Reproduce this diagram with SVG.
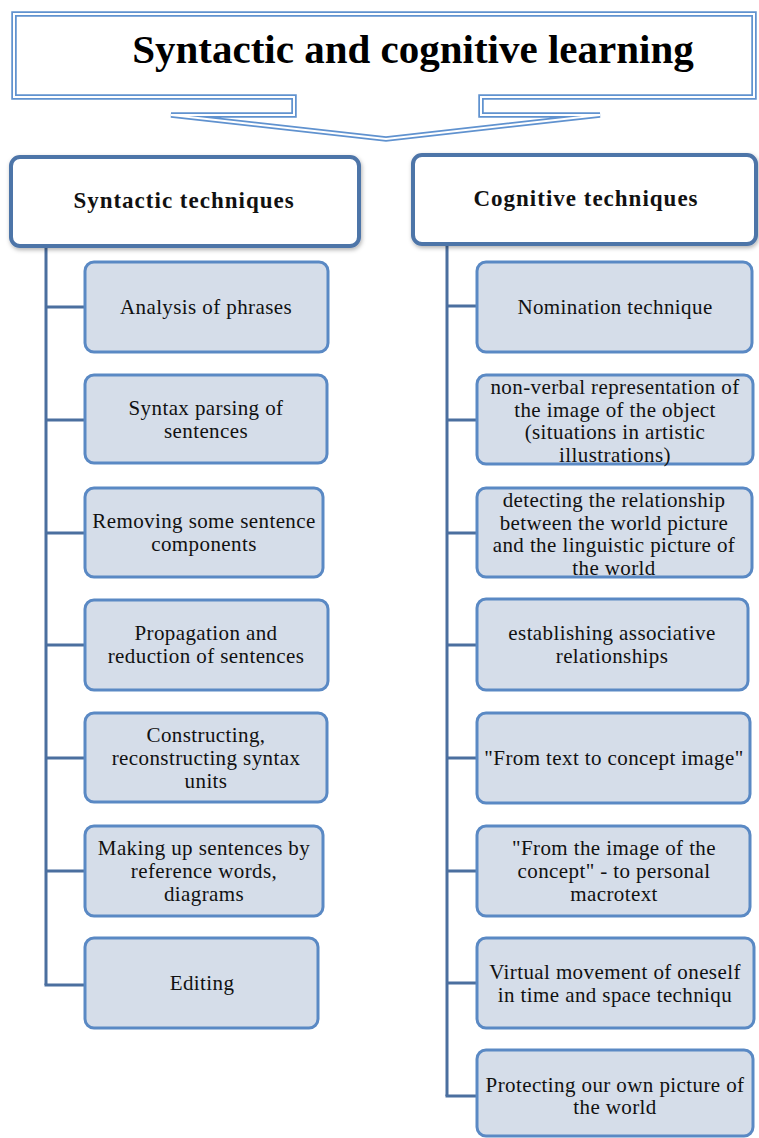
<svg xmlns="http://www.w3.org/2000/svg" width="759" height="1138" viewBox="0 0 759 1138">
<style>
.hdr{fill:#ffffff;stroke:#4e74a8;stroke-width:4}
.box{fill:#d5dde9;stroke:#5a89c4;stroke-width:3}
.conn{fill:none;stroke:#4b6f9f;stroke-width:3}
.t{font-family:"Liberation Serif","Times New Roman",serif;font-size:21px;fill:#111111;text-anchor:middle;letter-spacing:0.4px}
.ht{font-family:"Liberation Serif","Times New Roman",serif;font-size:23px;font-weight:bold;fill:#111111;text-anchor:middle;letter-spacing:1px}
.title{font-family:"Liberation Serif","Times New Roman",serif;font-size:41px;font-weight:bold;fill:#000000;text-anchor:middle}
</style>
<defs>
<filter id="sh" x="-10%" y="-10%" width="120%" height="130%">
<feDropShadow dx="1" dy="2" stdDeviation="2" flood-color="#000000" flood-opacity="0.3"/>
</filter>
</defs>
<rect width="759" height="1138" fill="#ffffff"/>

<g id="title">
<path d="M14,14 H754 V97 H481 V115 H600 L386,139 L171,115 H294 V97 H14 Z" fill="#ffffff" stroke="#6092cf" stroke-width="5.5" stroke-linejoin="miter"/>
<path d="M14,14 H754 V97 H481 V115 H600 L386,139 L171,115 H294 V97 H14 Z" fill="none" stroke="#ffffff" stroke-width="2" stroke-linejoin="miter"/>
<text class="title" x="413" y="63">Syntactic and cognitive learning</text>
</g>

<g id="connectors">
<path class="conn" d="M46,247 V985"/>
<path class="conn" d="M46,307 H85 M46,420 H85 M46,533 H85 M46,645 H85 M46,758 H85 M46,871 H85 M44.5,985 H85"/>
<path class="conn" d="M447,245 V1096"/>
<path class="conn" d="M447,306 H477 M447,420 H477 M447,533 H477 M447,645 H477 M447,758 H477 M447,871 H477 M447,983 H477 M445.5,1096 H477"/>
</g>

<g id="syntactic">
<rect class="hdr" x="11" y="157" width="348" height="89" rx="9" filter="url(#sh)"/>
<text class="ht" x="184" y="208">Syntactic techniques</text>
</g>
<g id="cognitive">
<rect class="hdr" x="413" y="155" width="343" height="89" rx="9" filter="url(#sh)"/>
<text class="ht" x="586" y="206">Cognitive techniques</text>
</g>

<g id="s1"><rect class="box" x="85" y="262" width="243" height="90" rx="9"/>
<text class="t" x="206" y="314">Analysis of phrases</text></g>
<g id="s2"><rect class="box" x="85" y="375" width="242" height="88" rx="9"/>
<text class="t" x="206" y="415">Syntax parsing of</text><text class="t" x="206" y="438">sentences</text></g>
<g id="s3"><rect class="box" x="85" y="488" width="238" height="89" rx="9"/>
<text class="t" x="204" y="528">Removing some sentence</text><text class="t" x="204" y="551">components</text></g>
<g id="s4"><rect class="box" x="85" y="600" width="243" height="90" rx="9"/>
<text class="t" x="206" y="640">Propagation and</text><text class="t" x="206" y="663">reduction of sentences</text></g>
<g id="s5"><rect class="box" x="85" y="713" width="242" height="89" rx="9"/>
<text class="t" x="206" y="742">Constructing,</text><text class="t" x="206" y="765">reconstructing syntax</text><text class="t" x="206" y="788">units</text></g>
<g id="s6"><rect class="box" x="85" y="826" width="238" height="90" rx="9"/>
<text class="t" x="204" y="855">Making up sentences by</text><text class="t" x="204" y="878">reference words,</text><text class="t" x="204" y="901">diagrams</text></g>
<g id="s7"><rect class="box" x="85" y="938" width="233" height="90" rx="9"/>
<text class="t" x="202" y="990">Editing</text></g>

<g id="c1"><rect class="box" x="477" y="262" width="275" height="90" rx="9"/>
<text class="t" x="615" y="314">Nomination technique</text></g>
<g id="c2"><rect class="box" x="477" y="375" width="276" height="89" rx="9"/>
<text class="t" x="615" y="394">non-verbal representation of</text><text class="t" x="615" y="416.5">the image of the object</text><text class="t" x="615" y="439">(situations in artistic</text><text class="t" x="615" y="461.5">illustrations)</text></g>
<g id="c3"><rect class="box" x="477" y="488" width="275" height="89" rx="9"/>
<text class="t" x="614" y="507">detecting the relationship</text><text class="t" x="614" y="529.5">between the world picture</text><text class="t" x="614" y="552">and the linguistic picture of</text><text class="t" x="614" y="574.5">the world</text></g>
<g id="c4"><rect class="box" x="477" y="599" width="271" height="91" rx="9"/>
<text class="t" x="612" y="640">establishing associative</text><text class="t" x="612" y="663">relationships</text></g>
<g id="c5"><rect class="box" x="477" y="713" width="273" height="90" rx="9"/>
<text class="t" x="614" y="765">"From text to concept image"</text></g>
<g id="c6"><rect class="box" x="477" y="826" width="273" height="90" rx="9"/>
<text class="t" x="614" y="855">"From the image of the</text><text class="t" x="614" y="878">concept" - to personal</text><text class="t" x="614" y="901">macrotext</text></g>
<g id="c7"><rect class="box" x="477" y="938" width="277" height="90" rx="9"/>
<text class="t" x="615" y="979">Virtual movement of oneself</text><text class="t" x="615" y="1002">in time and space techniqu</text></g>
<g id="c8"><rect class="box" x="477" y="1050" width="276" height="86" rx="9"/>
<text class="t" x="615" y="1092">Protecting our own picture of</text><text class="t" x="615" y="1114">the world</text></g>
</svg>
